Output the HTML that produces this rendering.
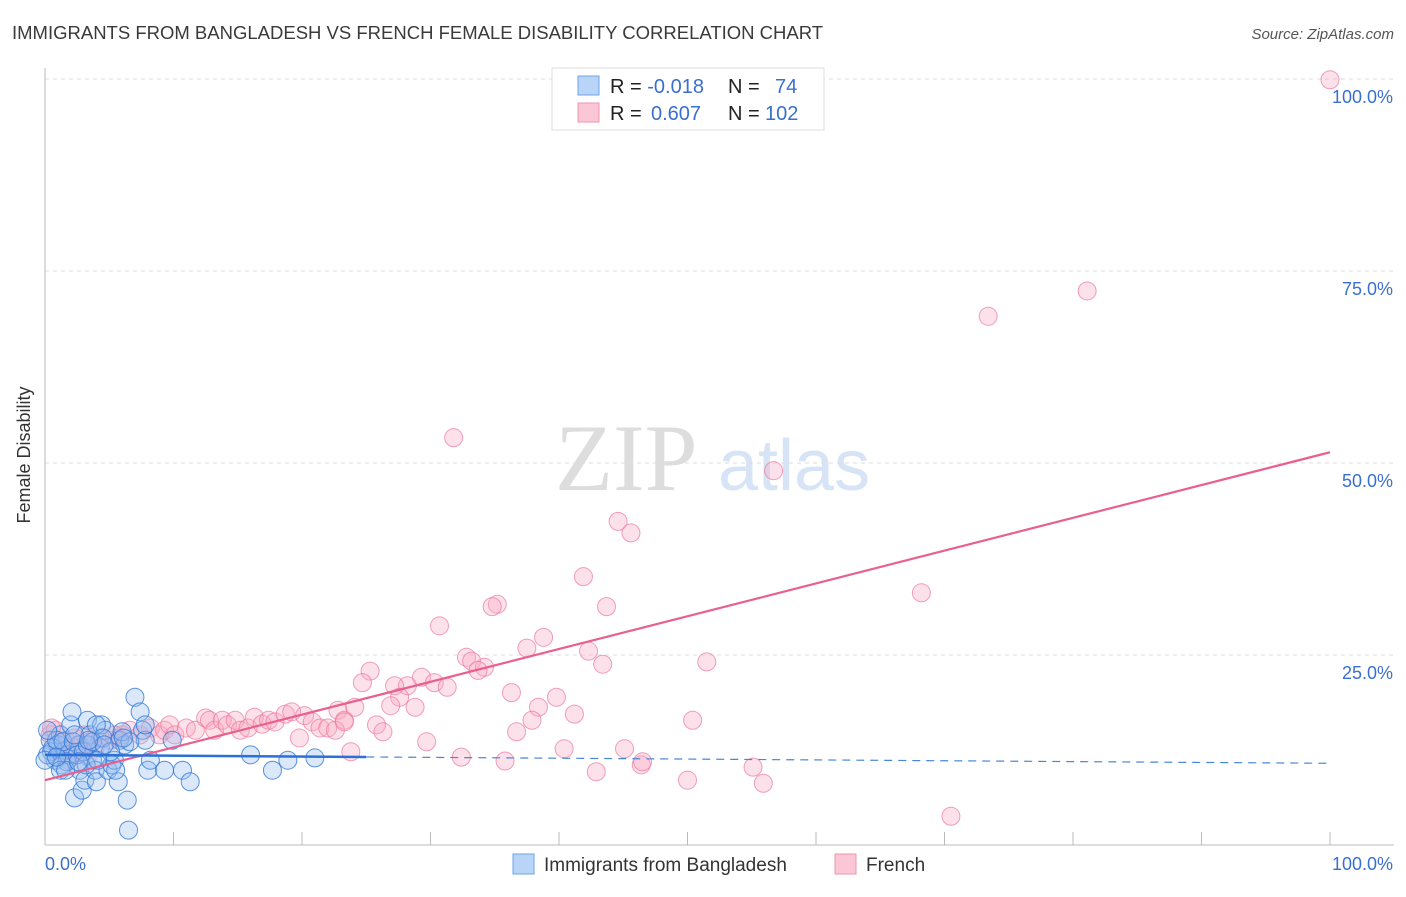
<!DOCTYPE html>
<html><head><meta charset="utf-8"><style>
body{margin:0;background:#fff;font-family:"Liberation Sans",sans-serif}
</style></head><body>
<svg width="1406" height="892" xmlns="http://www.w3.org/2000/svg" font-family="Liberation Sans, sans-serif">
<text x="12" y="39" font-size="18.5" fill="#3a3a3a">IMMIGRANTS FROM BANGLADESH VS FRENCH FEMALE DISABILITY CORRELATION CHART</text>
<text x="1394" y="39" font-size="15" fill="#555" text-anchor="end" font-style="italic">Source: ZipAtlas.com</text>
<text x="30" y="455" font-size="18" fill="#333" text-anchor="middle" transform="rotate(-90 30 455)">Female Disability</text>
<g><text x="555" y="490" font-size="95" font-family="Liberation Serif, serif" fill="#ddd">ZIP</text><text x="718" y="490" font-size="72" fill="#d6e4f5">atlas</text></g>
<g id="grid"></g><g id="axes"></g><g id="pts"></g><g id="lines"></g>
<g>
<rect x="552" y="68" width="272" height="62" fill="#fff" stroke="#ddd"/>
<rect x="578" y="76" width="21" height="19" fill="#b8d4f7" stroke="#6fa3e8"/>
<rect x="578" y="103" width="21" height="19" fill="#fbc7d6" stroke="#f093b0"/>
<text x="610" y="93" font-size="20" fill="#222">R = <tspan fill="#3a6fd0">-0.018</tspan><tspan x="728">N = </tspan><tspan x="775" fill="#3a6fd0">74</tspan></text>
<text x="610" y="120" font-size="20" fill="#222">R = <tspan x="651" fill="#3a6fd0">0.607</tspan><tspan x="728">N = </tspan><tspan x="765" fill="#3a6fd0">102</tspan></text>
</g>
<g>
<rect x="513" y="854" width="21" height="20" fill="#b8d4f7" stroke="#6fa3e8"/>
<text x="544" y="871" font-size="19" fill="#333">Immigrants from Bangladesh</text>
<rect x="835" y="854" width="21" height="20" fill="#fbc7d6" stroke="#f093b0"/>
<text x="866" y="871" font-size="19" fill="#333">French</text>
</g>
</svg>
<script>
const yTicks=[25,50,75,100];
const yTickLabels=["25.0%","50.0%","75.0%","100.0%"];
const xTicks=[0,10,20,30,40,50,60,70,80,90,100];
const blueX=[0.4,0.5,0.8,1.0,1.2,1.3,1.6,1.8,2.0,2.1,2.3,2.6,2.7,2.9,3.1,3.3,3.5,3.7,3.9,4.0,4.3,4.4,4.7,4.9,5.2,5.4,5.7,5.8,6.2,6.4,6.5,7.0,7.4,7.6,7.8,8.0,8.2,9.3,9.9,10.7,11.3,16.0,17.7,18.9,21.0,0.2,0.6,0.9,1.4,1.7,2.2,2.5,3.0,3.3,3.7,4.0,4.5,5.1,6.0,6.6,1.2,1.6,3.2,4.1,0.0,0.2,0.9,2.3,2.6,4.6,5.5,6.1,7.8,3.4];
const blueY=[13.9,12.4,11.3,13.3,14.6,10.7,12.6,12.0,15.9,17.6,6.4,13.3,10.0,7.4,8.7,16.5,14.6,11.3,10.0,8.5,12.9,15.9,15.2,10.0,10.7,11.3,8.5,13.9,13.3,6.1,2.2,19.5,17.6,15.2,13.9,10.0,11.3,10.0,13.9,10.0,8.5,12.0,10.0,11.3,11.6,12.0,12.9,13.9,13.7,11.1,13.7,12.0,12.4,13.3,13.7,15.9,14.2,12.4,15.0,13.7,10.0,10.0,10.7,11.3,11.3,15.2,11.7,14.6,11.1,13.3,10.0,14.2,15.9,13.9];
const pinkX=[100,81.1,73.4,31.8,56.7,44.6,45.6,41.9,35.2,34.8,43.7,68.2,30.7,38.8,37.5,42.3,32.8,33.2,43.4,34.2,33.7,51.5,25.3,24.7,29.3,28.2,30.3,31.3,27.2,27.6,26.9,28.8,36.3,39.8,38.4,37.9,41.2,36.7,50.4,24.1,22.8,23.3,25.8,26.3,29.7,23.8,32.4,35.8,40.4,45.1,42.9,46.4,46.5,50.0,55.1,55.9,70.5,0.4,0.8,1.2,1.6,2.0,2.3,2.7,3.1,3.5,3.9,4.3,5.1,5.4,5.8,6.6,7.4,8.2,8.9,9.3,9.7,10.1,11.0,11.7,12.5,12.8,13.2,13.8,14.2,14.8,15.2,15.8,16.3,16.9,17.4,17.9,18.7,19.2,19.8,20.2,20.8,21.4,22.0,22.6,23.3,1.0,1.8,2.6,3.3,0.5,6.0];
const pinkY=[99.9,72.4,69.1,53.3,49.0,42.4,40.9,35.2,31.6,31.3,31.3,33.1,28.8,27.3,25.9,25.5,24.7,24.2,23.8,23.4,23.0,24.1,22.9,21.4,22.1,21.0,21.4,20.8,21.0,19.5,18.4,18.2,20.1,19.5,18.2,16.5,17.3,15.0,16.5,18.2,17.8,16.5,15.9,15.0,13.7,12.4,11.7,11.2,12.8,12.8,9.8,10.7,11.1,8.7,10.4,8.3,4.0,14.6,15.2,13.3,13.9,12.6,14.2,13.3,14.6,13.7,12.9,14.2,13.9,14.6,14.2,15.2,14.6,15.5,14.6,15.2,15.9,14.6,15.5,15.2,16.8,16.5,15.2,16.5,15.9,16.5,15.2,15.5,16.9,16.0,16.5,16.3,17.3,17.6,14.2,17.1,16.3,15.5,15.5,15.2,16.3,12.0,11.3,12.4,11.8,15.5,14.6];
const pinkTrend=[8.7,51.4];
const blueTrend=[12.0,10.9];
const blueSolidEnd=25;
const NS="http://www.w3.org/2000/svg";
const sx=v=>45+v*12.85, sy=v=>847-v*7.68;
function mk(tag,attrs,parent){const e=document.createElementNS(NS,tag);for(const k in attrs)e.setAttribute(k,attrs[k]);document.getElementById(parent).appendChild(e);return e;}
yTicks.forEach((t,i)=>{
 const g=mk('line',{x1:45,x2:1394,y1:sy(t),y2:sy(t),stroke:'#ddd','stroke-dasharray':'4,4'},'grid');
 
 
 const l=mk('text',{x:1393,y:sy(t)+24,'font-size':18,fill:'#3a6fd0','text-anchor':'end'},'grid');
 l.textContent=yTickLabels[i];
 
 
});
mk('line',{x1:45,x2:45,y1:68,y2:845,stroke:'#bbb'},'axes');
mk('line',{x1:45,x2:1394,y1:845,y2:845,stroke:'#bbb'},'axes');
xTicks.forEach(t=>{const e=mk('line',{x1:sx(t),x2:sx(t),y1:832,y2:845,stroke:'#bbb'},'axes');
 
 });
const xl=mk('text',{x:45,y:870,'font-size':18,fill:'#3a6fd0'},'axes');xl.textContent='0.0%';


const xr=mk('text',{x:1393,y:870,'font-size':18,fill:'#3a6fd0','text-anchor':'end'},'axes');xr.textContent='100.0%';


pinkX.forEach((x,i)=>{const c=mk('circle',{cx:sx(x),cy:sy(pinkY[i]),r:9,fill:'rgba(248,170,195,0.35)',stroke:'rgba(235,120,155,0.7)','stroke-width':1},'pts');
 
 });
blueX.forEach((x,i)=>{const c=mk('circle',{cx:sx(x),cy:sy(blueY[i]),r:9,fill:'rgba(150,190,240,0.35)',stroke:'rgba(50,120,215,0.8)','stroke-width':1},'pts');
 
 });
const pl=mk('line',{x1:sx(0),y1:sy(pinkTrend[0]),x2:sx(100),y2:sy(pinkTrend[1]),stroke:'#e8608e','stroke-width':2.2},'lines');


const bAt=v=>blueTrend[0]+(blueTrend[1]-blueTrend[0])*v/100;
const bl=mk('line',{x1:sx(0),y1:sy(bAt(0)),x2:sx(blueSolidEnd),y2:sy(bAt(blueSolidEnd)),stroke:'#2a70d8','stroke-width':2.5},'lines');


const bd=mk('line',{x1:sx(blueSolidEnd),y1:sy(bAt(blueSolidEnd)),x2:sx(100),y2:sy(bAt(100)),stroke:'#4a86d8','stroke-width':1.2,'stroke-dasharray':'8,6'},'lines');


</script>
</body></html>
